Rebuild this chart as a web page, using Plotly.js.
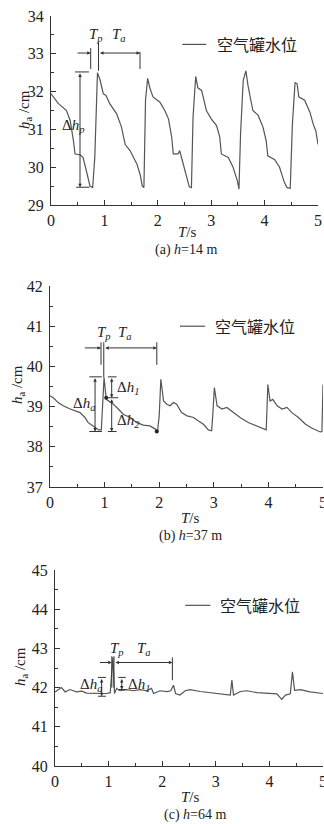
<!DOCTYPE html>
<html><head><meta charset="utf-8">
<script src="https://cdn.plot.ly/plotly-3.0.1.min.js"></script>
<style>html,body{margin:0;padding:0;background:#fff;}#chart{width:324px;height:824px;}</style>
</head><body><div id="chart"></div>
<script>
// Panel (a) h=14 m
const tA = [0,0.14,0.29,0.36,0.42,0.45,0.54,0.6,0.68,0.73,0.78,0.82,0.87,0.92,0.98,1.03,1.1,1.23,1.32,1.39,1.48,1.61,1.67,1.71,1.74,1.77,1.81,1.85,1.91,2.04,2.13,2.2,2.26,2.29,2.38,2.41,2.46,2.54,2.59,2.63,2.66,2.71,2.75,2.82,2.91,3.0,3.1,3.16,3.19,3.32,3.41,3.49,3.52,3.55,3.6,3.65,3.69,3.78,3.88,3.97,4.03,4.06,4.19,4.28,4.37,4.42,4.48,4.52,4.57,4.61,4.64,4.75,4.85,4.91,4.96,5.0];
const hA = [31.94,31.68,31.5,31.23,30.7,30.35,30.33,30.26,29.8,29.5,29.46,30.26,32.5,32.3,31.94,31.9,31.68,31.41,31.06,30.6,30.44,30.08,29.8,29.5,29.46,31.77,32.35,32.1,31.86,31.72,31.5,31.28,30.8,30.35,30.35,30.44,30.17,29.73,29.48,29.46,31.33,32.4,32.1,32.03,31.5,31.28,31.1,30.8,30.35,30.26,30.0,29.64,29.42,30.9,32.3,32.55,32.15,31.5,31.37,31.06,30.7,30.3,30.2,30.0,29.6,29.46,29.44,31.13,32.24,32.2,31.86,31.77,31.45,31.14,30.96,30.6];
// Panel (b) h=37 m
const tB = [0,0.06,0.15,0.24,0.37,0.46,0.55,0.64,0.7,0.79,0.89,0.94,0.97,0.99,1.03,1.07,1.16,1.25,1.34,1.47,1.59,1.71,1.83,1.93,1.97,2.0,2.03,2.08,2.14,2.2,2.26,2.32,2.41,2.51,2.63,2.72,2.81,2.9,2.96,2.98,3.01,3.06,3.15,3.24,3.36,3.48,3.64,3.79,3.91,3.96,3.99,4.03,4.08,4.16,4.25,4.34,4.43,4.55,4.68,4.8,4.95,4.98,5.0];
const hB = [39.27,39.22,39.1,39.02,38.94,38.9,38.85,38.73,38.6,38.52,38.42,38.42,39.1,39.72,39.18,39.14,39.06,38.94,38.81,38.73,38.6,38.54,38.52,38.44,38.4,38.77,39.68,39.14,39.06,39.02,39.1,39.06,38.85,38.77,38.73,38.64,38.56,38.42,38.4,38.77,39.47,39.02,38.94,38.98,38.85,38.73,38.6,38.52,38.44,38.42,39.55,39.14,39.18,39.02,38.94,38.98,38.85,38.73,38.56,38.46,38.37,38.38,39.55];
// Panel (c) h=64 m
const tC = [0,0.06,0.12,0.19,0.28,0.4,0.5,0.59,0.72,0.81,0.84,0.9,0.96,1.03,1.08,1.11,1.15,1.21,1.34,1.46,1.59,1.71,1.8,1.84,1.96,2.09,2.16,2.21,2.25,2.33,2.43,2.52,2.71,2.9,3.08,3.27,3.3,3.33,3.46,3.58,3.77,3.95,4.14,4.23,4.3,4.39,4.43,4.47,4.58,4.76,5.0];
const hC = [41.89,41.94,42.0,41.89,41.95,41.89,41.91,41.86,41.85,41.84,41.84,41.85,41.85,41.87,42.77,41.85,41.98,41.92,41.95,41.92,41.95,41.92,41.98,41.85,41.92,41.9,41.92,42.06,41.85,41.81,41.92,41.95,41.9,41.87,41.84,41.81,42.19,41.81,41.9,41.92,41.87,41.85,41.84,41.7,41.81,41.84,42.4,41.93,41.95,41.89,41.85];

const legendText = '空气罐水位';
const xTickVals = [0,1,2,3,4,5];

const W = 324, H = 824;
const px = x => x / W, py = y => 1 - y / H;

const lineColor = '#555';
const axColor = '#333';
const serif = '"Liberation Serif", "Times New Roman", serif';

function xa(domain, anchor) {
  return {domain: domain, anchor: anchor, range: [0,5], tickvals: xTickVals, showline: true, linecolor: axColor, linewidth: 1,
    ticks: 'inside', ticklen: 5, tickcolor: axColor, showgrid: false, zeroline: false, ticklabeloverflow: 'allow',
    tickfont: {family: serif, size: 16, color: '#222'}, ticklabelstandoff: 1,
    minor: {dtick: 0.5, ticks: 'inside', ticklen: 3, tickcolor: axColor}};
}
function ya(domain, anchor, r) {
  return {domain: domain, anchor: anchor, range: r, dtick: 1, showline: true, linecolor: axColor, linewidth: 1,
    ticks: 'inside', ticklen: 5, tickcolor: axColor, showgrid: false, zeroline: false, ticklabeloverflow: 'allow',
    tickfont: {family: serif, size: 16, color: '#222'}, ticklabelstandoff: 3,
    minor: {dtick: 0.5, ticks: 'inside', ticklen: 3, tickcolor: axColor}};
}

const traces = [
  {x: tA, y: hA, xaxis: 'x', yaxis: 'y', mode: 'lines', line: {color: lineColor, width: 1.2}},
  {x: tB, y: hB, xaxis: 'x2', yaxis: 'y2', mode: 'lines', line: {color: lineColor, width: 1.2}},
  {x: tC, y: hC, xaxis: 'x3', yaxis: 'y3', mode: 'lines', line: {color: lineColor, width: 1.2}},
  {x: [1.03, 1.956], y: [39.22, 38.38], xaxis: 'x2', yaxis: 'y2', mode: 'markers', marker: {color: '#222', size: 4}}
];

const shapes = [];
function seg(ax, x0, y0, x1, y1, w) {
  const s = ax === 1 ? '' : ax;
  shapes.push({type: 'line', xref: 'x' + s, yref: 'y' + s, x0: x0, y0: y0, x1: x1, y1: y1, line: {color: '#333', width: w || 1}});
}
const annotations = [];
function arrow(ax, x0, y0, x1, y1, both) {
  const s = ax === 1 ? '' : ax;
  annotations.push({xref: 'x' + s, yref: 'y' + s, axref: 'x' + s, ayref: 'y' + s, x: x1, y: y1, ax: x0, ay: y0,
    text: '', showarrow: true, arrowhead: 2, arrowsize: 0.7, arrowwidth: 1, arrowcolor: '#333',
    arrowside: both ? 'end+start' : 'end', standoff: 0, startstandoff: 0});
}
function txt(ax, x, y, t, size, fam) {
  const s = ax === 1 ? '' : ax;
  annotations.push({xref: 'x' + s, yref: 'y' + s, x: x, y: y, text: t, showarrow: false,
    xanchor: 'center', yanchor: 'middle',
    font: {family: fam || serif, size: size || 15, color: '#222'}});
}
function ptxt(x, y, t, size, angle) {
  annotations.push({xref: 'paper', yref: 'paper', x: px(x), y: py(y), text: t, showarrow: false,
    xanchor: 'center', yanchor: 'middle',
    textangle: angle || 0, font: {family: serif, size: size || 14, color: '#222'}});
}
const cjk = '"Noto Sans CJK SC", sans-serif';

// Panel a annotations
seg(1, 0.743, 32.6, 0.743, 33.15);
seg(1, 0.89, 32.55, 0.89, 33.3);
seg(1, 1.667, 32.6, 1.667, 33.05);
arrow(1, 0.47, 33.02, 0.743, 33.02);
arrow(1, 0.89, 33.02, 1.667, 33.02, true);
txt(1, 0.84, 33.5, '<i>T</i><sub><i>p</i></sub>');
txt(1, 1.27, 33.5, '<i>T</i><sub><i>a</i></sub>');
seg(1, 0.45, 32.52, 0.71, 32.52);
seg(1, 0.47, 29.47, 0.72, 29.47);
arrow(1, 0.543, 32.52, 0.543, 29.47, true);
txt(1, 0.42, 31.1, 'Δ<i>h</i><sub><i>p</i></sub>');
seg(1, 2.46, 33.25, 2.91, 33.25);
txt(1, 3.86, 33.25, legendText, 16, cjk);

// Panel b annotations
seg(2, 0.934, 40.04, 0.934, 40.6);
seg(2, 0.985, 39.72, 0.985, 40.6);
seg(2, 1.956, 40.04, 1.956, 40.6);
arrow(2, 0.61, 40.46, 0.934, 40.46);
arrow(2, 0.985, 40.46, 1.956, 40.46, true);
txt(2, 0.98, 40.83, '<i>T</i><sub><i>p</i></sub>');
txt(2, 1.38, 40.83, '<i>T</i><sub><i>a</i></sub>');
seg(2, 0.72, 39.74, 0.95, 39.74);
seg(2, 0.72, 38.38, 0.95, 38.38);
arrow(2, 0.825, 39.74, 0.825, 38.38, true);
txt(2, 0.62, 39.06, 'Δ<i>h</i><sub><i>a</i></sub>');
seg(2, 1.06, 39.74, 1.22, 39.74);
seg(2, 1.0, 39.22, 1.25, 39.22);
seg(2, 1.06, 38.38, 1.22, 38.38);
arrow(2, 1.13, 39.74, 1.13, 39.22, true);
arrow(2, 1.13, 39.22, 1.13, 38.38, true);
txt(2, 1.43, 39.47, 'Δ<i>h</i><sub><i>1</i></sub>');
txt(2, 1.43, 38.65, 'Δ<i>h</i><sub><i>2</i></sub>');
seg(2, 2.38, 41.0, 2.84, 41.0);
txt(2, 3.76, 41.0, legendText, 16, cjk);

// Panel c annotations
seg(3, 1.06, 42.0, 1.06, 42.8);
seg(3, 1.1, 42.0, 1.1, 42.8);
seg(3, 2.19, 42.19, 2.19, 42.77);
arrow(3, 0.81, 42.64, 1.06, 42.64);
arrow(3, 1.1, 42.64, 2.19, 42.64, true);
txt(3, 1.16, 42.98, '<i>T</i><sub><i>p</i></sub>');
txt(3, 1.66, 42.98, '<i>T</i><sub><i>a</i></sub>');
seg(3, 0.8, 42.26, 0.95, 42.26);
seg(3, 0.8, 41.78, 0.95, 41.78);
arrow(3, 0.87, 42.26, 0.87, 41.78, true);
txt(3, 0.67, 42.06, 'Δ<i>h</i><sub><i>a</i></sub>');
seg(3, 1.18, 42.26, 1.32, 42.26);
seg(3, 1.18, 41.95, 1.32, 41.95);
arrow(3, 1.245, 42.26, 1.245, 41.95, true);
txt(3, 1.56, 42.06, 'Δ<i>h</i><sub><i>1</i></sub>');
seg(3, 2.43, 44.1, 2.9, 44.1);
txt(3, 3.83, 44.1, legendText, 16, cjk);

// Axis titles and captions
ptxt(25, 110, '<i>h</i><sub>a</sub> /cm', 15, -90);
ptxt(18, 385, '<i>h</i><sub>a</sub> /cm', 15, -90);
ptxt(21, 667, '<i>h</i><sub>a</sub> /cm', 15, -90);
ptxt(187, 232, '<i>T</i>/s', 15);
ptxt(191, 518, '<i>T</i>/s', 15);
ptxt(191, 797, '<i>T</i>/s', 15);
ptxt(186, 250, '(a) <i>h</i>=14 m', 14);
ptxt(191, 536, '(b) <i>h</i>=37 m', 14);
ptxt(195, 815, '(c) <i>h</i>=64 m', 14);

const layout = {
  width: W, height: H, margin: {l: 0, r: 0, t: 0, b: 0},
  paper_bgcolor: '#fff', plot_bgcolor: '#fff', showlegend: false,
  xaxis: xa([px(51), px(318)], 'y'),
  yaxis: ya([py(205), py(16)], 'x', [29, 34]),
  xaxis2: xa([px(50), px(323)], 'y2'),
  yaxis2: ya([py(487), py(286)], 'x2', [37, 42]),
  xaxis3: xa([px(55), px(323)], 'y3'),
  yaxis3: ya([py(766), py(570)], 'x3', [40, 45]),
  shapes: shapes, annotations: annotations
};
Plotly.newPlot('chart', traces, layout, {staticPlot: true});
</script></body></html>
